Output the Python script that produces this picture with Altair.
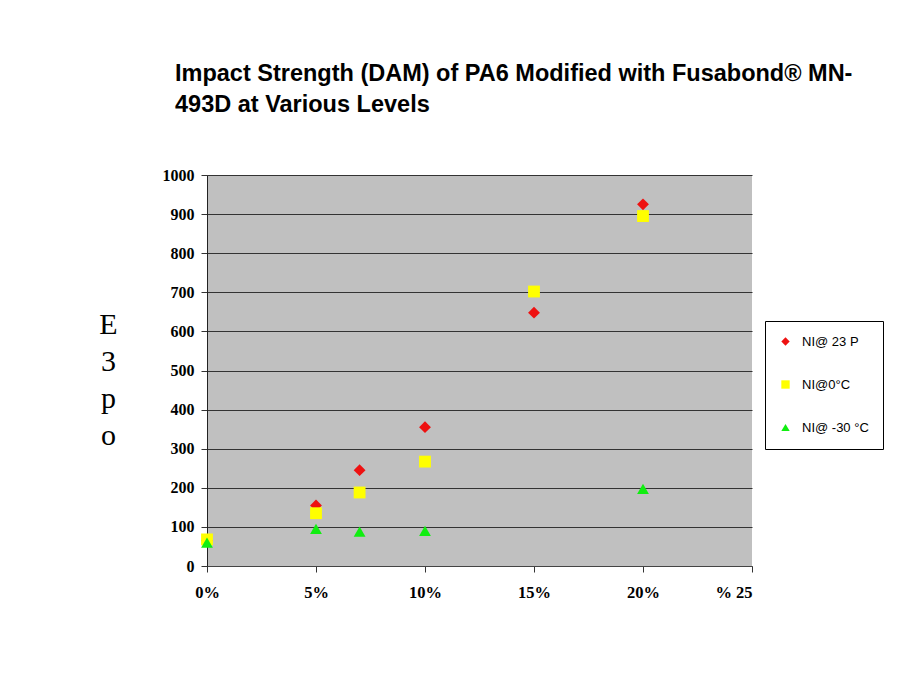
import altair as alt
import pandas as pd

levels = [0, 5, 7, 10, 15, 20]
ni_23 = [65, 155, 245, 355, 648, 925]
ni_0 = [68, 135, 188, 267, 702, 895]
levels_30 = [0, 5, 7, 10, 20]
ni_m30 = [60, 95, 88, 90, 197]

series_names = ["NI@ 23 P", "NI@0°C", "NI@ -30 °C"]
series_colors = ["#ee1111", "#ffff00", "#11ee11"]
series_shapes = ["diamond", "square", "triangle-up"]

rows = []
for x, v in zip(levels, ni_23):
    rows.append({"level": x, "value": v, "series": series_names[0]})
for x, v in zip(levels, ni_0):
    rows.append({"level": x, "value": v, "series": series_names[1]})
for x, v in zip(levels_30, ni_m30):
    rows.append({"level": x, "value": v, "series": series_names[2]})
df = pd.DataFrame(rows)

serif = "Liberation Serif"
sans = "Liberation Sans"

chart = alt.Chart(df).mark_point(filled=True, size=140, opacity=1).encode(
    x=alt.X(
        "level:Q",
        scale=alt.Scale(domain=[0, 25], nice=False, zero=True),
        axis=alt.Axis(
            values=[0, 5, 10, 15, 20, 25],
            labelExpr="datum.value == 25 ? '% 25' : datum.value + '%'",
            labelAlign=alt.expr("datum.value == 25 ? 'right' : 'center'"),
            labelFont=serif, labelFontWeight="bold", labelFontSize=16.5,
            labelColor="black", labelPadding=12,
            tickSize=6, tickColor="#333", domainColor="#444",
            grid=False, title=None,
        ),
    ),
    y=alt.Y(
        "value:Q",
        scale=alt.Scale(domain=[0, 1000], nice=False),
        axis=alt.Axis(
            values=list(range(0, 1001, 100)),
            format="d",
            labelFont=serif, labelFontWeight="bold", labelFontSize=16,
            labelColor="black", labelPadding=7,
            tickSize=6, tickColor="#333", domainColor="#222",
            grid=True, gridColor="#333", gridWidth=1, gridOpacity=1,
            title=["E", "3", "p", "o"],
            titleFont=serif, titleFontWeight="normal", titleFontSize=30,
            titleColor="black", titleAngle=0, titleAlign="center",
            titleBaseline="alphabetic", titleX=-99, titleY=158,
            titleLineHeight=37,
        ),
    ),
    color=alt.Color(
        "series:N",
        scale=alt.Scale(domain=series_names, range=series_colors),
        legend=alt.Legend(
            orient="none", legendX=558, legendY=146,
            title=None, fillColor="white", strokeColor="black",
            padding=14, rowPadding=29, labelFont=sans, labelFontSize=13,
            labelColor="black", symbolSize=70, symbolStrokeWidth=0,
            labelLimit=200, labelOffset=10,
        ),
    ),
    shape=alt.Shape(
        "series:N",
        scale=alt.Scale(domain=series_names, range=series_shapes),
    ),
).properties(
    width=545,
    height=391,
    autosize=alt.AutoSizeParams(type="none"),
    padding={"left": 199, "top": 167, "right": 160, "bottom": 116},
    title=alt.TitleParams(
        text=["Impact Strength (DAM) of PA6 Modified with Fusabond® MN-",
              "493D at Various Levels"],
        anchor="start", frame="group", dx=-32, offset=51, font=sans,
        fontWeight="bold", fontSize=23.5, color="black", lineHeight=31,
    ),
).configure_view(
    fill="#c0c0c0", stroke=None,
)

chart.save("out.html", embed_options={"renderer": "svg", "actions": False})
